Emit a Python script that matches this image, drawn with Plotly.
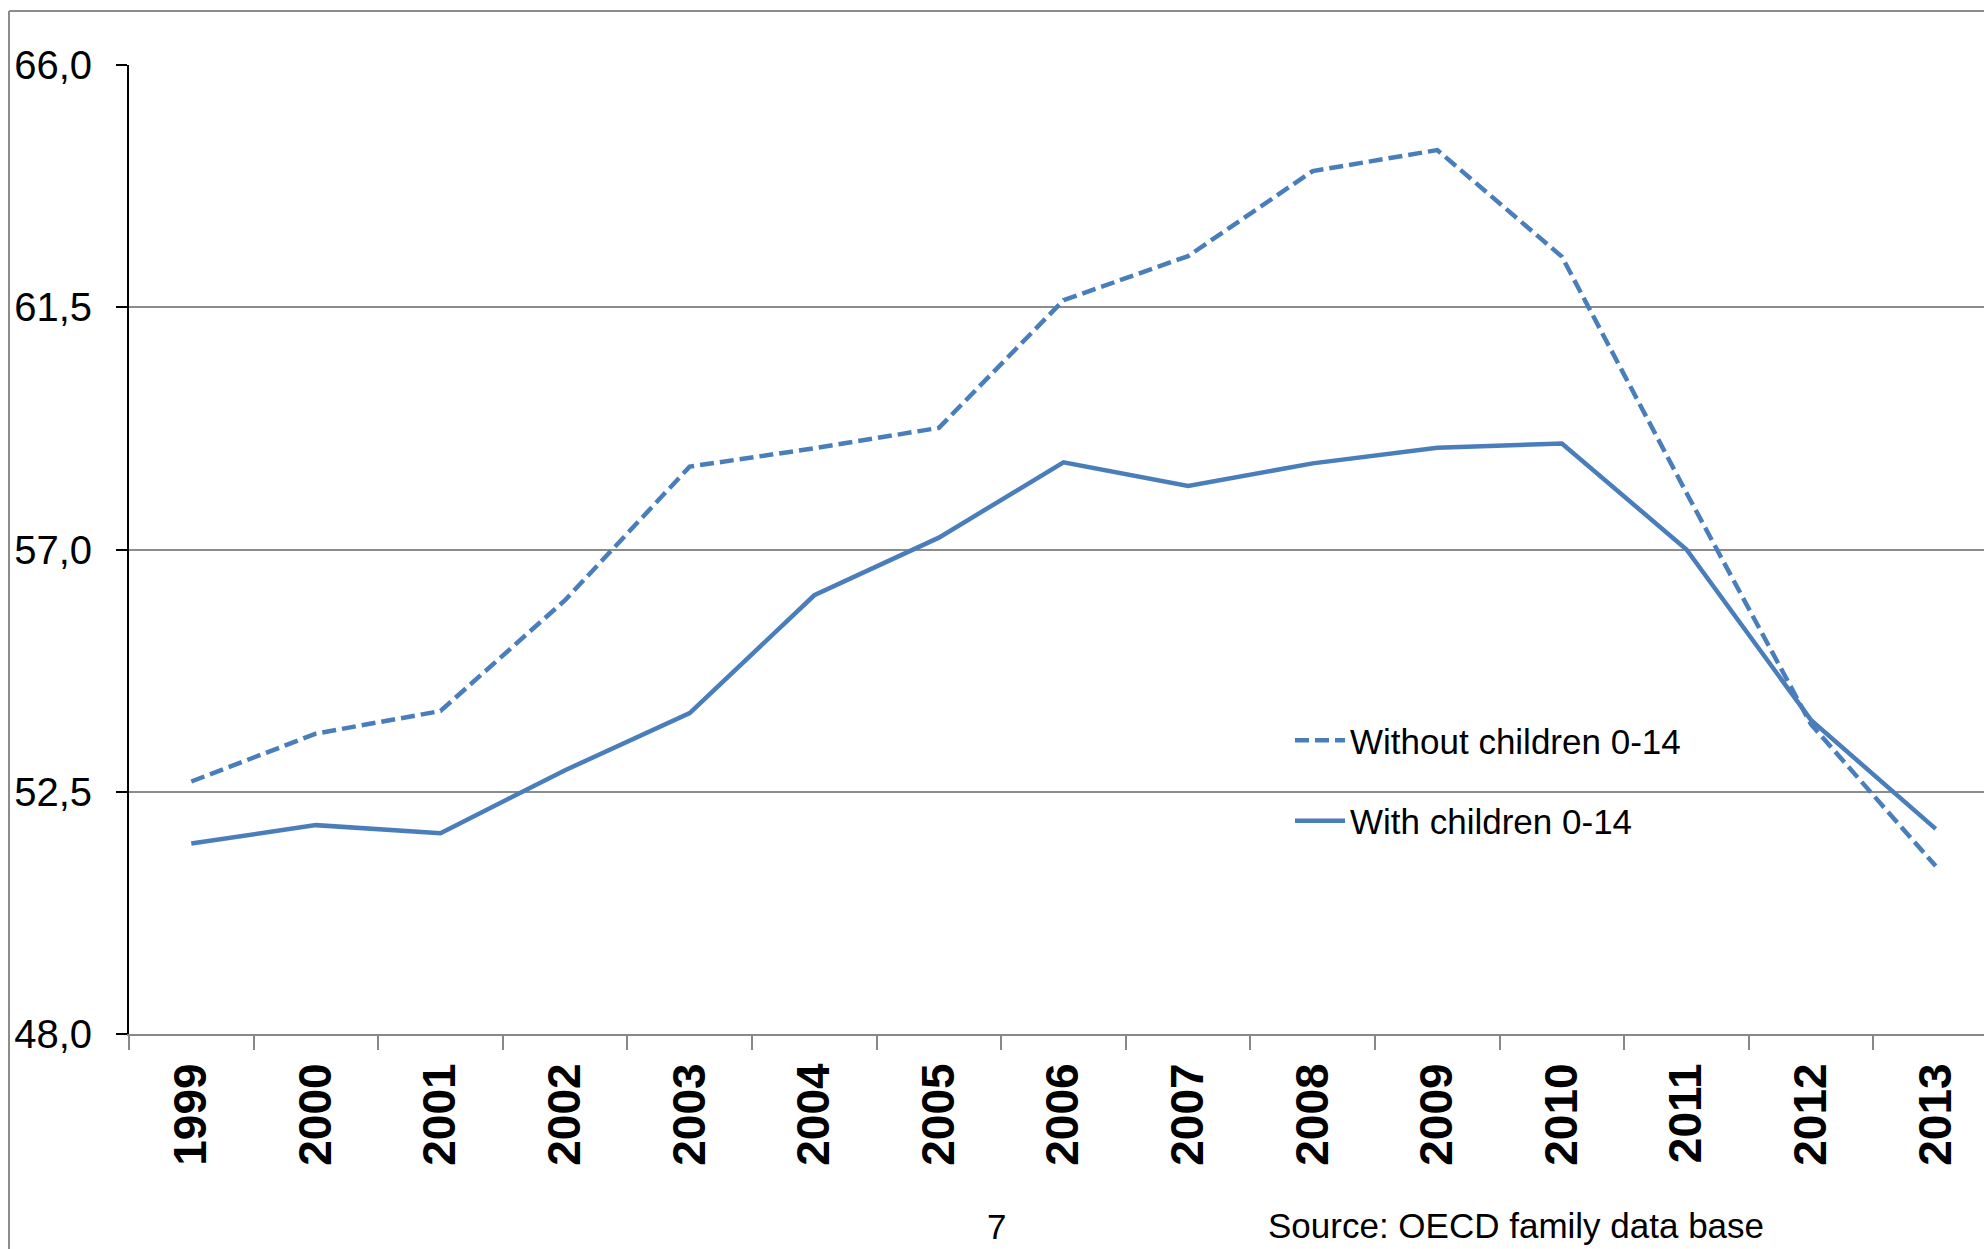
import plotly.graph_objects as go

years = ["1999", "2000", "2001", "2002", "2003", "2004", "2005", "2006",
         "2007", "2008", "2009", "2010", "2011", "2012", "2013"]
without_children = [52.69, 53.58, 54.00, 56.06, 58.54, 58.88, 59.26, 61.63,
                    62.45, 64.03, 64.42, 62.44, 58.05, 53.75, 51.12]
with_children = [51.54, 51.88, 51.73, 52.90, 53.96, 56.15, 57.22, 58.62,
                 58.18, 58.60, 58.89, 58.97, 57.00, 53.83, 51.81]
y_tick_vals = [48.0, 52.5, 57.0, 61.5, 66.0]
y_tick_text = ["48,0", "52,5", "57,0", "61,5", "66,0"]

W, H = 1984, 1249
L, T, B = 129, 65, 215
BLUE = "#4a7ebb"
FONT = "Liberation Sans, Arial, sans-serif"

fig = go.Figure()
fig.add_trace(go.Scatter(
    x=years, y=without_children, mode="lines", name="Without children 0-14",
    line=dict(color=BLUE, width=4.5, dash="14px,6px"), legendgroup="a"))
fig.add_trace(go.Scatter(
    x=years, y=with_children, mode="lines", name="With children 0-14",
    line=dict(color=BLUE, width=4.5), legendgroup="b"))

plot_w = W - L
px_per_cat = 124.6
x_max = -0.5 + plot_w / px_per_cat

fig.update_layout(
    width=W, height=H,
    margin=dict(l=L, r=0, t=T, b=B, pad=0),
    paper_bgcolor="white", plot_bgcolor="white",
    font=dict(family=FONT, color="black"),
    showlegend=True,
    legend=dict(
        x=(1290 - L) / plot_w, y=(1034 - 711) / (1034 - 65),
        xanchor="left", yanchor="top",
        font=dict(size=35, family=FONT, color="black"),
        bgcolor="rgba(0,0,0,0)", traceorder="grouped",
        tracegroupgap=32, itemwidth=50),
    xaxis=dict(
        type="category", range=[-0.5, x_max],
        tickangle=-90, tickfont=dict(size=46, family=FONT, color="black", weight="bold"),
        showgrid=False, zeroline=False, showline=True, linecolor="#888888", linewidth=2,
        ticks="outside", ticklen=14, tickwidth=2, tickcolor="#888888",
        tickson="boundaries", ticklabelstandoff=9),
    yaxis=dict(
        range=[48, 66], tickmode="array", tickvals=y_tick_vals, ticktext=y_tick_text,
        tickfont=dict(size=40, family=FONT, color="black"),
        showgrid=True, gridcolor="#8c8c8c", gridwidth=2, zeroline=False,
        showline=True, linecolor="black", linewidth=2,
        ticks="outside", ticklen=11, tickwidth=2, tickcolor="black",
        ticklabelstandoff=16),
)

# slide frame (cropped border)
fy_top = (1034 - 11) / (1034 - 65)
fx_left = (9 - L) / plot_w
fig.add_shape(type="line", xref="paper", yref="paper", x0=fx_left, x1=1.0,
              y0=fy_top, y1=fy_top, line=dict(color="#8c8c8c", width=2))
fig.add_shape(type="line", xref="paper", yref="paper", x0=fx_left, x1=fx_left,
              y0=fy_top, y1=(1034 - 1260) / (1034 - 65), line=dict(color="#8c8c8c", width=2))

fig.add_annotation(text="7", xref="paper", yref="paper",
                   x=(996 - L) / plot_w, y=(1034 - 1226) / (1034 - 65),
                   xanchor="center", yanchor="middle", showarrow=False,
                   font=dict(size=35, family=FONT, color="black"))
fig.add_annotation(text="Source: OECD family data base", xref="paper", yref="paper",
                   x=(1266 - L) / plot_w, y=(1034 - 1225) / (1034 - 65),
                   xanchor="left", yanchor="middle", showarrow=False,
                   font=dict(size=35, family=FONT, color="black"))

fig.write_html("out.html")
